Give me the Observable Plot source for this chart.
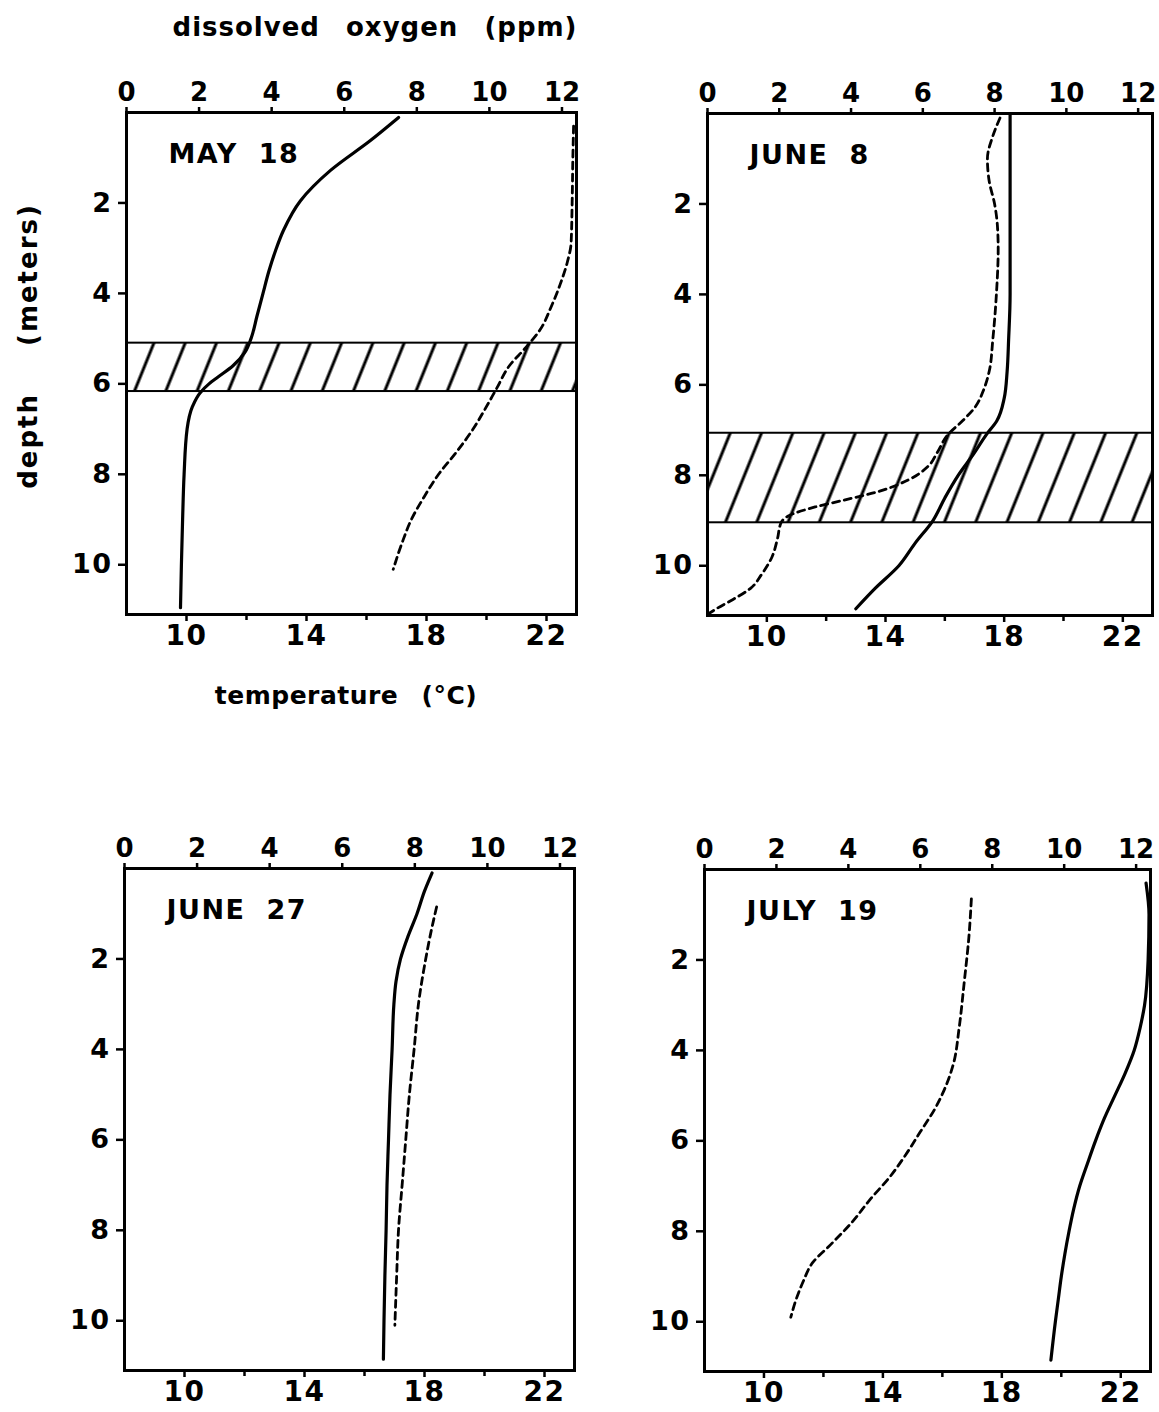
<!DOCTYPE html>
<html><head><meta charset="utf-8">
<script src="https://cdn.jsdelivr.net/npm/d3@7"></script>
<script src="https://cdn.jsdelivr.net/npm/@observablehq/plot@0.6"></script>
<style>
body{margin:0;background:#fff;}
#chart{position:relative;width:1159px;height:1412px;overflow:hidden;font-family:"DejaVu Sans",sans-serif;}
.lbl{position:absolute;font-weight:bold;color:#000;white-space:pre;line-height:1;}
#chart svg{position:absolute;}
</style></head>
<body><div id="chart"></div>
<script>
// ---- axes / categories ----
const depthDomain = [0, 11.1];
const tempDomain = [8, 23];
const oxyDomain = [0, 12.4];
const tempTicks = [10, 14, 18, 22];
const tempMinorTicks = [12, 16, 20];
const oxyTicks = [0, 2, 4, 6, 8, 10, 12];
const depthTicks = [2, 4, 6, 8, 10];
const panelNames = ["MAY 18", "JUNE 8", "JUNE 27", "JULY 19"];

// ---- thermocline bands (depth, m) ----
const bandTop = [5.1, 7.07, null, null];
const bandBottom = [6.17, 9.05, null, null];

// ---- MAY 18 ----
const may18TempDepth = [0.11, 0.62, 1.28, 1.95, 2.61, 3.05, 3.5, 4.0, 4.5, 5.0, 5.3, 5.6, 5.85, 6.0, 6.2, 6.5, 7.0, 8.0, 9.0, 10.0, 10.95];
const may18Temp = [17.07, 16.13, 14.8, 13.8, 13.23, 12.97, 12.75, 12.55, 12.35, 12.15, 11.95, 11.55, 11.05, 10.75, 10.45, 10.2, 10.02, 9.92, 9.87, 9.83, 9.8];
const may18OxyDepth = [0.3, 1.0, 2.0, 2.9, 3.3, 3.8, 4.3, 4.8, 5.2, 5.6, 6.1, 6.6, 7.0, 7.5, 8.0, 8.5, 9.0, 9.5, 10.1];
const may18Oxy = [12.32, 12.3, 12.28, 12.25, 12.15, 11.95, 11.7, 11.4, 11.0, 10.55, 10.2, 9.85, 9.55, 9.1, 8.6, 8.2, 7.85, 7.6, 7.35];

// ---- JUNE 8 ----
const june8TempDepth = [0.0, 1, 2, 3, 4, 5, 5.7, 6.3, 6.8, 7.1, 7.5, 8.0, 8.5, 9.0, 9.5, 10.0, 10.5, 10.95];
const june8Temp = [18.2, 18.2, 18.2, 18.2, 18.2, 18.15, 18.1, 18.0, 17.75, 17.4, 17.0, 16.45, 16.0, 15.6, 15.0, 14.45, 13.65, 13.0];
const june8OxyDepth = [0.1, 0.5, 1.0, 1.5, 2.0, 2.5, 3.0, 4.0, 5.0, 5.7, 6.1, 6.5, 6.8, 7.1, 7.5, 7.8, 8.1, 8.35, 8.55, 8.7, 8.9, 9.05, 9.4, 9.8, 10.2, 10.5, 10.75, 10.95, 11.05];
const june8Oxy = [8.15, 7.95, 7.8, 7.85, 8.0, 8.08, 8.1, 8.05, 7.95, 7.85, 7.7, 7.45, 7.1, 6.7, 6.4, 6.15, 5.6, 4.8, 3.8, 3.0, 2.25, 2.05, 1.95, 1.8, 1.5, 1.2, 0.7, 0.25, 0.05];

// ---- JUNE 27 ----
const june27TempDepth = [0.1, 0.5, 1.0, 1.5, 2.0, 2.5, 3.0, 4.0, 5.0, 6.0, 7.0, 8.0, 9.0, 10.0, 10.85];
const june27Temp = [18.25, 18.0, 17.75, 17.45, 17.2, 17.05, 16.98, 16.92, 16.85, 16.8, 16.75, 16.72, 16.68, 16.65, 16.63];
const june27OxyDepth = [0.85, 1.5, 2.0, 3.0, 4.0, 5.0, 6.0, 7.0, 8.0, 9.0, 10.1];
const june27Oxy = [8.6, 8.42, 8.3, 8.1, 7.98, 7.85, 7.75, 7.65, 7.55, 7.5, 7.45];

// ---- JULY 19 ----
const july19TempDepth = [0.3, 1.0, 2.0, 3.0, 3.5, 4.0, 4.5, 5.0, 5.5, 6.0, 6.5, 7.0, 7.5, 8.0, 8.5, 9.0, 9.5, 10.0, 10.85];
const july19Temp = [22.85, 22.95, 22.92, 22.8, 22.65, 22.45, 22.15, 21.8, 21.45, 21.15, 20.88, 20.62, 20.42, 20.26, 20.12, 20.0, 19.9, 19.8, 19.65];
const july19OxyDepth = [0.65, 1.5, 2.5, 3.5, 4.3, 4.9, 5.3, 5.8, 6.3, 6.8, 7.3, 7.8, 8.3, 8.7, 9.1, 9.5, 9.9];
const july19Oxy = [7.42, 7.35, 7.22, 7.08, 6.92, 6.65, 6.4, 6.0, 5.6, 5.15, 4.6, 4.1, 3.5, 3.0, 2.75, 2.55, 2.4];

const tempDepths = [may18TempDepth, june8TempDepth, june27TempDepth, july19TempDepth];
const temps = [may18Temp, june8Temp, june27Temp, july19Temp];
const oxyDepths = [may18OxyDepth, june8OxyDepth, june27OxyDepth, july19OxyDepth];
const oxys = [may18Oxy, june8Oxy, june27Oxy, july19Oxy];

// ---- layout ----
const frames = [
  {left: 126, top: 112, width: 450, height: 502},
  {left: 707, top: 113, width: 445, height: 502},
  {left: 124, top: 868, width: 450, height: 502},
  {left: 704, top: 869, width: 446, height: 502}
];
const FONT = "DejaVu Sans, sans-serif";
const chart = document.getElementById("chart");

function addHatch(svg, id) {
  const defs = d3.select(svg).insert("defs", ":first-child");
  const p = defs.append("pattern").attr("id", id)
    .attr("patternUnits", "userSpaceOnUse")
    .attr("width", 29).attr("height", 20)
    .attr("patternTransform", "rotate(22)");
  p.append("line").attr("x1", 3).attr("y1", -2).attr("x2", 3).attr("y2", 22)
    .attr("stroke", "black").attr("stroke-width", 3);
}

function panel(i) {
  const f = frames[i];
  const mL = 64, mR = 14, mT = 14, mB = 42;
  const tData = tempDepths[i].map((d, k) => ({depth: d, value: temps[i][k]}));
  const oData = oxyDepths[i].map((d, k) => ({depth: d, value: oxys[i][k]}));
  const hatchId = "hatch" + i;

  const marksA = [];
  if (bandTop[i] != null) {
    marksA.push(Plot.rect([{top: bandTop[i], bottom: bandBottom[i]}], {
      x1: () => tempDomain[0], x2: () => tempDomain[1], y1: "top", y2: "bottom",
      fill: `url(#${hatchId})`, stroke: "black", strokeWidth: 2
    }));
  }
  marksA.push(
    Plot.axisY({ticks: depthTicks, tickSize: 8, tickPadding: 6, strokeWidth: 2.5, label: null, fontSize: 27}),
    Plot.axisX({anchor: "bottom", ticks: tempTicks, tickSize: 7, tickPadding: 4, strokeWidth: 2.5, label: null, fontSize: 28}),
    Plot.axisX({anchor: "bottom", ticks: tempMinorTicks, tickFormat: () => "", tickSize: 6, strokeWidth: 2.5, label: null}),
    Plot.line(tData, {x: "value", y: "depth", curve: "monotone-y", strokeWidth: 3.2, stroke: "black"}),
    Plot.text([panelNames[i]], {text: d => d, frameAnchor: "top-left", textAnchor: "start", lineAnchor: "top",
      dx: 42, dy: 31, fontSize: 27, fontWeight: "bold", fontFamily: FONT}),
    Plot.frame({strokeWidth: 3})
  );

  const svgA = Plot.plot({
    width: mL + f.width + mR, height: mT + f.height + mB,
    marginLeft: mL, marginRight: mR, marginTop: mT, marginBottom: mB,
    x: {domain: tempDomain},
    y: {domain: depthDomain, reverse: true},
    style: {fontFamily: FONT, fontWeight: "bold", fontSize: "27px", background: "transparent", color: "black"},
    marks: marksA
  });
  addHatch(svgA, hatchId);
  d3.select(svgA).selectAll("text").style("word-spacing", "10px").style("letter-spacing", "1.5px");
  svgA.style.left = (f.left - mL) + "px";
  svgA.style.top = (f.top - mT) + "px";
  chart.appendChild(svgA);

  const mT2 = 60, mB2 = 14;
  const svgB = Plot.plot({
    width: mL + f.width + mR, height: mT2 + f.height + mB2,
    marginLeft: mL, marginRight: mR, marginTop: mT2, marginBottom: mB2,
    x: {domain: oxyDomain},
    y: {domain: depthDomain, reverse: true, axis: null},
    style: {fontFamily: FONT, fontWeight: "bold", fontSize: "26px", background: "transparent", color: "black"},
    marks: [
      Plot.axisX({anchor: "top", ticks: oxyTicks, tickSize: 6, tickPadding: 6, strokeWidth: 2.5, label: null, fontSize: 26}),
      Plot.line(oData, {x: "value", y: "depth", curve: "monotone-y", strokeWidth: 2.8, stroke: "black", strokeDasharray: "7,5"})
    ]
  });
  svgB.style.left = (f.left - mL) + "px";
  svgB.style.top = (f.top - mT2) + "px";
  svgB.style.pointerEvents = "none";
  chart.appendChild(svgB);
}
[0, 1, 2, 3].forEach(panel);

function label(text, css) {
  const d = document.createElement("div");
  d.className = "lbl";
  d.textContent = text;
  Object.assign(d.style, css);
  chart.appendChild(d);
}
label("dissolved oxygen (ppm)", {left: "375px", top: "14px", fontSize: "26px", letterSpacing: "1px", wordSpacing: "16px", transform: "translateX(-50%)"});
label("depth (meters)", {left: "28px", top: "346px", fontSize: "26px", letterSpacing: "2px", wordSpacing: "36px", transform: "translate(-50%,-50%) rotate(-90deg)"});
label("temperature (°C)", {left: "346px", top: "683px", fontSize: "25px", letterSpacing: "0.5px", wordSpacing: "14px", transform: "translateX(-50%)"});
</script>
</body></html>
